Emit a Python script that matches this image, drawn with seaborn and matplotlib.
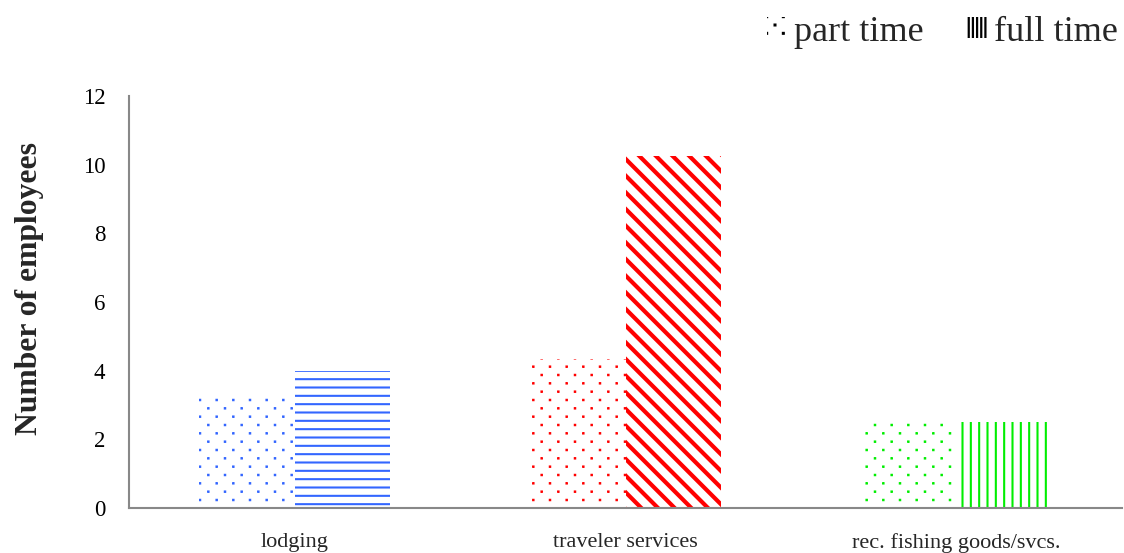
import numpy as np
import pandas as pd
import matplotlib
matplotlib.use("Agg")
import matplotlib.pyplot as plt
import matplotlib.hatch as mhatch
from matplotlib.path import Path
from matplotlib.patches import Patch
import matplotlib.patheffects as pe
import seaborn as sns

# ---- data ----
categories = ["lodging", "traveler services", "rec. fishing goods/svcs."]
part_time = [3.3, 4.35, 2.5]
full_time = [4.0, 10.25, 2.5]
series_names = ["part time", "full time"]
colors = ["#3366FF", "#FF0000", "#00EE00"]
full_hatches = ["--", "\\\\", "||"]


# ---- custom sparse diamond dot hatch (bound to 'O') ----
class DiamondDots(mhatch.HatchPatternBase):
    half = 0.004

    def __init__(self, hatch, density):
        self.ncol = int(hatch.count("O") * density)
        if self.ncol == 0:
            self.num_vertices = 0
            return
        nrow = 2 * self.ncol
        npts = 0
        for r in range(nrow + 1):
            npts += (self.ncol + 1) if r % 2 == 0 else self.ncol
        self.num_vertices = npts * 5

    def set_vertices_and_codes(self, vertices, codes):
        nrow = 2 * self.ncol
        h = self.half
        sq = np.array([[-h, -h], [h, -h], [h, h], [-h, h], [-h, -h]])
        sc = [Path.MOVETO, Path.LINETO, Path.LINETO, Path.LINETO, Path.CLOSEPOLY]
        vp, cp = [], []
        for r in range(nrow + 1):
            y = r / nrow
            if r % 2 == 0:
                xs = np.arange(self.ncol + 1) / self.ncol
            else:
                xs = (np.arange(self.ncol) + 0.5) / self.ncol
            for x in xs:
                vp.append(sq + [x, y])
                cp.append(sc)
        np.concatenate(vp, out=vertices)
        np.concatenate(cp, out=codes)


mhatch._hatch_types = [t for t in mhatch._hatch_types
                       if t is not mhatch.LargeCircles] + [DiamondDots]

# ---- theme ----
sns.set_theme(style="white")
plt.rcParams["font.family"] = ["Liberation Serif", "DejaVu Sans"]
plt.rcParams["hatch.linewidth"] = 1.5

df = pd.DataFrame({
    "category": categories * 2,
    "type": [series_names[0]] * 3 + [series_names[1]] * 3,
    "value": part_time + full_time,
})

fig = plt.figure(figsize=(11.24, 5.53), dpi=100)
ax = fig.add_axes([0.1148, 0.0814, 0.8834, 0.745])

sns.barplot(data=df, x="category", y="value", hue="type", order=categories,
            hue_order=series_names, width=0.575, gap=0, dodge=True,
            legend=False, ax=ax, errorbar=None)

shadow = [pe.SimplePatchShadow(offset=(0, -1.5), shadow_rgbFace="#000000",
                               alpha=0.12), pe.Normal()]
for si, cont in enumerate(ax.containers):
    for ci, bar in enumerate(cont):
        bar.set_facecolor("white")
        bar.set_edgecolor(colors[ci])
        bar.set_linewidth(0)
        if si == 0:
            bar.set_hatch("O")
            lw = 1.2
        else:
            bar.set_hatch(full_hatches[ci])
            lw = 3.0 if "\\" in full_hatches[ci] else 1.5
        if hasattr(bar, "set_hatch_linewidth"):
            bar.set_hatch_linewidth(lw)
        bar.set_path_effects(shadow)

# ---- axes styling ----
ax.set_xlim(-0.5, 2.5)
ax.set_ylim(0, 12)
ax.set_yticks(np.arange(0, 13, 2))
ax.set_yticklabels([str(v) for v in range(0, 13, 2)], fontsize=16.5)
ax.set_xticks([-0.5, 0.5, 1.5, 2.5])
ax.set_xticklabels([])
ax.set_xticks(range(len(categories)), minor=True)
ax.set_xticklabels(categories, minor=True, fontsize=16)
ax.tick_params(axis="x", which="minor", length=0, pad=18)
ax.tick_params(axis="x", which="major", length=7, width=1.3, color="#888888",
               direction="out")
ax.tick_params(axis="y", length=7, width=1.3, color="#888888", direction="out",
               pad=10)
ax.tick_params(labelcolor="black")
for s in ["top", "right"]:
    ax.spines[s].set_visible(False)
for s in ["left", "bottom"]:
    ax.spines[s].set_color("#888888")
    ax.spines[s].set_linewidth(1.5)
ax.set_xlabel("")
ax.set_ylabel("Number of employees", fontsize=22.8, fontweight="bold",
              labelpad=0)
ax.yaxis.set_label_coords(-0.086, 0.532)

# ---- legend ----
handles = [
    Patch(facecolor="white", edgecolor="black", linewidth=0, hatch="O",
          label=series_names[0]),
    Patch(facecolor="white", edgecolor="black", linewidth=0, hatch="||||",
          label=series_names[1]),
]
leg = fig.legend(handles=handles, loc="upper right",
                 bbox_to_anchor=(1.014, 1.011), ncol=2, frameon=False,
                 fontsize=26, handlelength=0.55, handleheight=0.5,
                 handletextpad=0.2, columnspacing=1.2, borderaxespad=0.2)
for h in leg.get_patches():
    if hasattr(h, "set_hatch_linewidth"):
        h.set_hatch_linewidth(1.6)

fig.savefig("out.png", dpi=100)
